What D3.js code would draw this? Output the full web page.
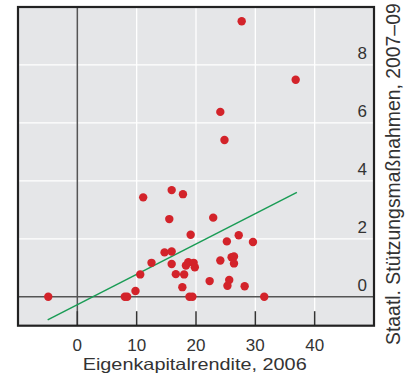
<!DOCTYPE html>
<html>
<head>
<meta charset="utf-8">
<script src="https://cdn.jsdelivr.net/npm/d3@7"></script>
<style>
  body { margin: 0; background: #fff; }
  svg { display: block; font-family: "Liberation Sans", Arial, sans-serif; }
</style>
</head>
<body>
<div id="vis"></div>
<script>
// Eigenkapitalrendite 2006 (x) vs. staatliche Stützung 2007–09 (y)
const roe = [-4.9, 8.0, 8.4, 9.8, 10.6, 11.1, 12.5, 14.7, 15.9, 15.9, 15.5, 15.9, 16.6, 17.7,
  17.8, 18.0, 18.3, 18.7, 18.9, 19.4, 19.1, 19.6, 19.8, 22.3, 22.9, 24.1, 24.1, 24.8, 25.2,
  25.3, 25.6, 26.0, 26.4, 26.4, 27.2, 27.7, 28.2, 29.6, 31.5, 36.8];
const support = [0, 0, 0, 0.2, 0.77, 3.43, 1.17, 1.53, 1.56, 3.68, 2.68, 1.13, 0.78, 0.33,
  3.54, 0.77, 1.08, 1.19, 0, 0, 2.14, 1.17, 1.02, 0.54, 2.73, 1.25, 6.38, 5.41, 1.91,
  0.38, 0.58, 1.36, 1.39, 1.15, 2.12, 9.51, 0.36, 1.89, 0, 7.49];

// regression line endpoints
const fitX = [-5, 37];
const fitY = [-0.8, 3.6];

const xTicks = [0, 10, 20, 30, 40];
const yTicks = [0, 2, 4, 6, 8];

const width = 405, height = 376;
const red = "#d3232a", green = "#1a9c55";

const x = d3.scaleLinear().domain([-10, 50]).range([18, 374]);
const y = d3.scaleLinear().domain([-1, 10]).range([325.7, 7]);

const svg = d3.select("#vis").append("svg")
  .attr("width", width)
  .attr("height", height);

// plot background
svg.append("rect")
  .attr("x", x(-10)).attr("y", y(10))
  .attr("width", x(50) - x(-10)).attr("height", y(-1) - y(10))
  .attr("fill", "#e5e6e8");

// white grid
svg.selectAll(".vgrid")
  .data(xTicks.filter(d => d !== 0))
  .enter().append("line")
  .attr("x1", d => x(d)).attr("x2", d => x(d))
  .attr("y1", y(10)).attr("y2", y(-1))
  .attr("stroke", "#fff").attr("stroke-width", 1.3);

svg.selectAll(".hgrid")
  .data(yTicks.filter(d => d !== 0))
  .enter().append("line")
  .attr("x1", x(-10)).attr("x2", x(50))
  .attr("y1", d => y(d)).attr("y2", d => y(d))
  .attr("stroke", "#fff").attr("stroke-width", 1.3);

// zero lines
svg.append("line")
  .attr("x1", x(0)).attr("x2", x(0))
  .attr("y1", y(10)).attr("y2", y(-1))
  .attr("stroke", "#555").attr("stroke-width", 1.5);
svg.append("line")
  .attr("x1", x(-10)).attr("x2", x(50))
  .attr("y1", y(0)).attr("y2", y(0))
  .attr("stroke", "#555").attr("stroke-width", 1.5);

// bottom tick marks
svg.selectAll(".xtick")
  .data(xTicks)
  .enter().append("line")
  .attr("x1", d => x(d)).attr("x2", d => x(d))
  .attr("y1", y(-1) - 14.5).attr("y2", y(-1))
  .attr("stroke", "#333").attr("stroke-width", 1.5);

// regression line
svg.append("line")
  .attr("x1", x(fitX[0])).attr("y1", y(fitY[0]))
  .attr("x2", x(fitX[1])).attr("y2", y(fitY[1]))
  .attr("stroke", green).attr("stroke-width", 1.5);

// points
svg.selectAll(".dot")
  .data(roe.map((d, i) => [d, support[i]]))
  .enter().append("circle")
  .attr("cx", d => x(d[0]))
  .attr("cy", d => y(d[1]))
  .attr("r", 4.2)
  .attr("fill", red);

// frame
svg.append("rect")
  .attr("x", x(-10)).attr("y", y(10))
  .attr("width", x(50) - x(-10)).attr("height", y(-1) - y(10))
  .attr("fill", "none")
  .attr("stroke", "#222").attr("stroke-width", 2.2);

// x tick labels
svg.selectAll(".xlab")
  .data(xTicks)
  .enter().append("text")
  .attr("x", d => x(d))
  .attr("y", 350.5)
  .attr("text-anchor", "middle")
  .attr("fill", "#333")
  .style("font-size", "17px")
  .text(d => d);

// y tick labels (inside, right side)
svg.selectAll(".ylab")
  .data(yTicks)
  .enter().append("text")
  .attr("x", 367)
  .attr("y", d => y(d) - 6)
  .attr("text-anchor", "end")
  .attr("fill", "#333")
  .style("font-size", "17px")
  .text(d => d);

// axis titles
svg.append("text")
  .attr("x", 82.7)
  .attr("y", 370)
  .attr("fill", "#333")
  .attr("textLength", 224)
  .attr("lengthAdjust", "spacingAndGlyphs")
  .style("font-size", "16.5px")
  .text("Eigenkapitalrendite, 2006");

svg.append("text")
  .attr("transform", "translate(400,345) rotate(-90)")
  .attr("fill", "#333")
  .style("font-size", "19.4px")
  .text("Staatl. Stützungsmaßnahmen, 2007–09");
</script>
</body>
</html>
